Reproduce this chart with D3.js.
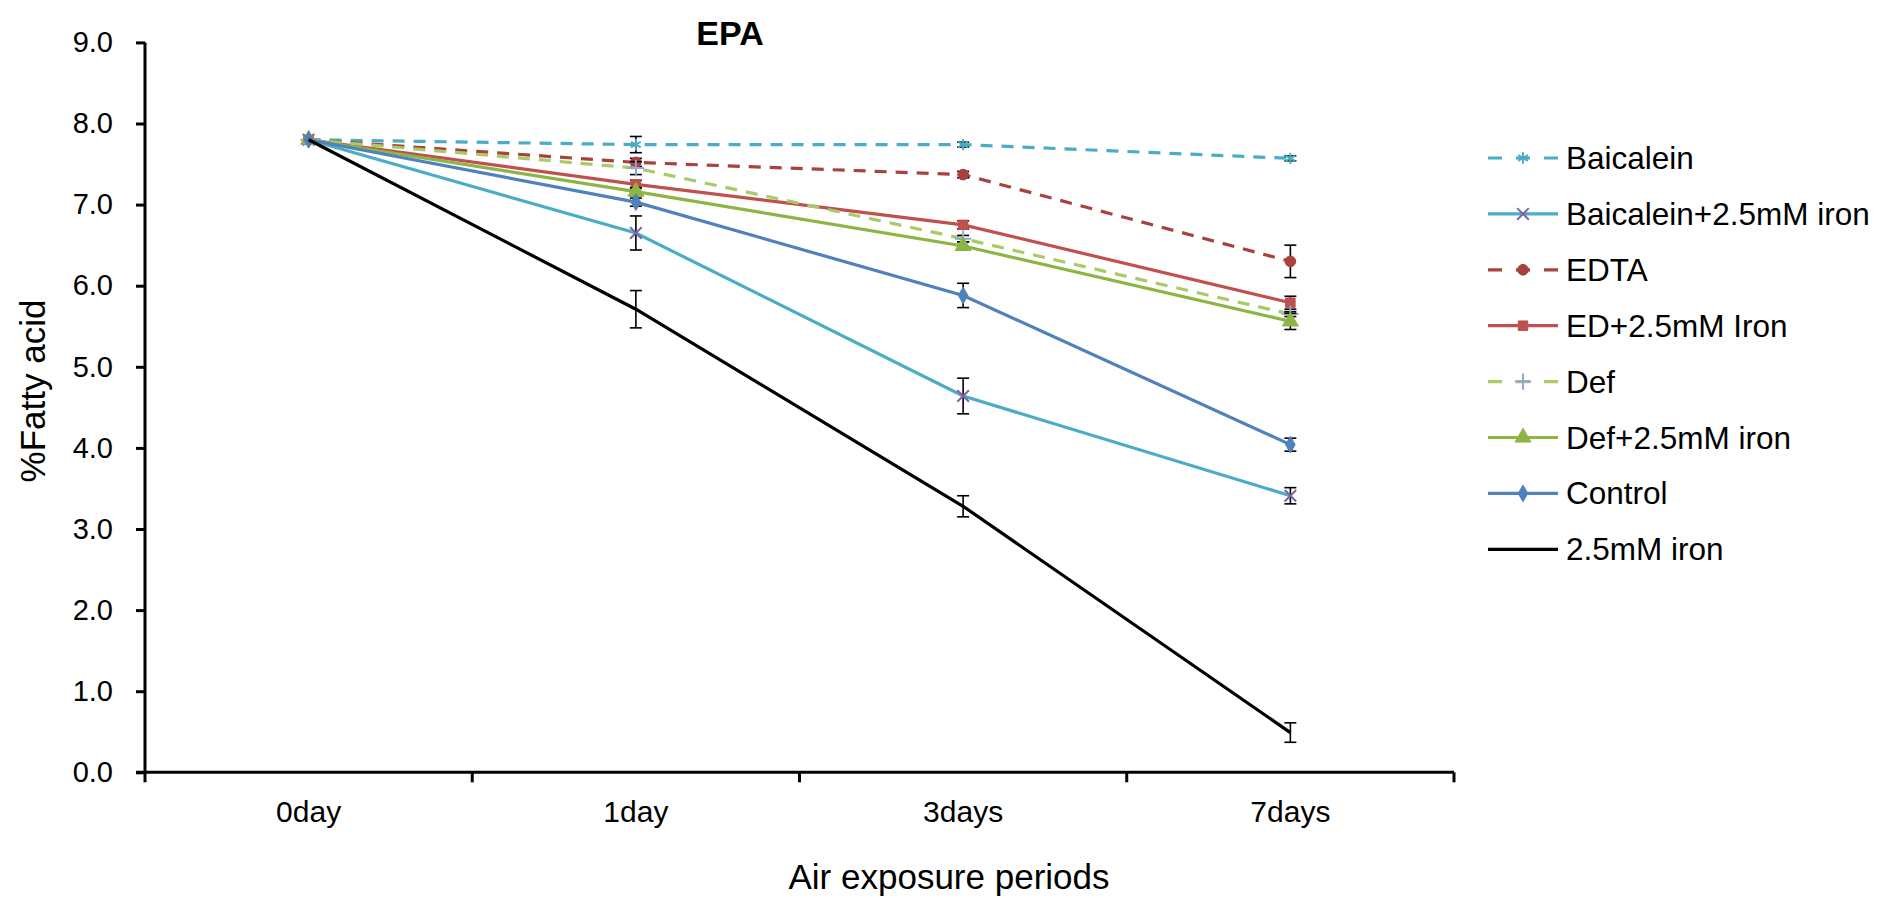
<!DOCTYPE html>
<html>
<head>
<meta charset="utf-8">
<script src="https://cdn.jsdelivr.net/npm/d3@7"></script>
<style>
  html, body { margin: 0; padding: 0; background: #fff; }
  svg { display: block; font-family: "Liberation Sans", Arial, sans-serif; }
</style>
</head>
<body>
<svg id="chart" width="1879" height="898"></svg>
<script>
// Exposure periods on the x axis
const categories = ["0day", "1day", "3days", "7days"];
const yTicks = [0, 1, 2, 3, 4, 5, 6, 7, 8, 9];

// EPA (% of total fatty acid) per treatment, with error bar half-widths
const baicalein        = [7.80, 7.74, 7.74, 7.57];
const baicaleinErr     = [0, 0.10, 0.03, 0.03];
const baicaleinIron    = [7.80, 6.65, 4.64, 3.41];
const baicaleinIronErr = [0, 0.21, 0.22, 0.10];
const edta             = [7.80, 7.52, 7.37, 6.30];
const edtaErr          = [0, 0.05, 0.04, 0.20];
const edIron           = [7.80, 7.25, 6.75, 5.79];
const edIronErr        = [0, 0.05, 0.05, 0.08];
const def              = [7.80, 7.45, 6.58, 5.65];
const defErr           = [0, 0.08, 0.04, 0.03];
const defIron          = [7.80, 7.16, 6.49, 5.56];
const defIronErr       = [0, 0.05, 0.05, 0.10];
const control          = [7.80, 7.03, 5.88, 4.04];
const controlErr       = [0, 0.05, 0.15, 0.08];
const iron             = [7.80, 5.71, 3.28, 0.49];
const ironErr          = [0, 0.23, 0.13, 0.12];

const series = [
  { name: "Baicalein",            values: baicalein,     err: baicaleinErr,     color: "#4BACC6", dash: "12,9", symbol: d3.symbolAsterisk, stroked: true,  markColor: "#4BACC6" },
  { name: "Baicalein+2.5mM iron", values: baicaleinIron, err: baicaleinIronErr, color: "#4BACC6", dash: null,   symbol: d3.symbolTimes,    stroked: true,  markColor: "#8064A2" },
  { name: "EDTA",                 values: edta,          err: edtaErr,          color: "#A8423F", dash: "12,9", symbol: d3.symbolCircle,   stroked: false, markColor: "#A8423F" },
  { name: "ED+2.5mM Iron",        values: edIron,        err: edIronErr,        color: "#C0504D", dash: null,   symbol: d3.symbolSquare,   stroked: false, markColor: "#C0504D" },
  { name: "Def",                  values: def,           err: defErr,           color: "#A8CB68", dash: "12,9", symbol: d3.symbolPlus,     stroked: true,  markColor: "#8FA8D6" },
  { name: "Def+2.5mM iron",       values: defIron,       err: defIronErr,       color: "#8DB543", dash: null,   symbol: d3.symbolTriangle, stroked: false, markColor: "#8DB543" },
  { name: "Control",              values: control,       err: controlErr,       color: "#4F81BD", dash: null,   symbol: d3.symbolDiamond,  stroked: false, markColor: "#4F81BD" },
  { name: "2.5mM iron",           values: iron,          err: ironErr,          color: "#000000", dash: null,   symbol: null,              stroked: false, markColor: "#000000" }
];

const svg = d3.select("#chart");
const plot = { left: 145, right: 1454, top: 42.4, bottom: 772.3 };

const x = d3.scaleBand().domain(categories).range([plot.left, plot.right]).padding(0);
const y = d3.scaleLinear().domain([0, 9]).range([plot.bottom, plot.top]);
const cx = c => x(c) + x.bandwidth() / 2;

// Title
svg.append("text")
  .attr("x", 730).attr("y", 45)
  .attr("text-anchor", "middle")
  .attr("font-size", 34).attr("font-weight", "bold")
  .text("EPA");

// Y axis
const yAxis = svg.append("g")
  .attr("transform", `translate(${plot.left},0)`)
  .call(d3.axisLeft(y).tickValues(yTicks).tickFormat(d3.format(".1f")).tickSize(9).tickPadding(23));
yAxis.select(".domain").attr("stroke", "#000").attr("stroke-width", 3).attr("d", `M0,${plot.top}V${plot.bottom}`);
yAxis.selectAll(".tick line").attr("stroke", "#000").attr("stroke-width", 3);
yAxis.selectAll(".tick text").attr("font-size", 29).attr("font-family", "Liberation Sans, Arial, sans-serif").attr("fill", "#000");

// X axis: line, ticks between categories, labels at band centres
const xg = svg.append("g").attr("transform", `translate(0,${plot.bottom})`);
xg.append("line")
  .attr("x1", plot.left - 9).attr("x2", plot.right)
  .attr("y1", 0).attr("y2", 0)
  .attr("stroke", "#000").attr("stroke-width", 3);
const bounds = categories.map(c => x(c)).concat([x.range()[1]]);
xg.selectAll("line.bound").data(bounds).join("line")
  .attr("class", "bound")
  .attr("x1", d => d).attr("x2", d => d)
  .attr("y1", 0).attr("y2", 10)
  .attr("stroke", "#000").attr("stroke-width", 3);
const xLabels = svg.append("g")
  .attr("transform", `translate(0,${plot.bottom})`)
  .call(d3.axisBottom(x).tickSize(0).tickPadding(28));
xLabels.select(".domain").remove();
xLabels.selectAll(".tick text").attr("font-size", 30).attr("font-family", "Liberation Sans, Arial, sans-serif").attr("fill", "#000");

// Axis titles
svg.append("text")
  .attr("x", 949).attr("y", 889)
  .attr("text-anchor", "middle")
  .attr("font-size", 35)
  .text("Air exposure periods");
svg.append("text")
  .attr("transform", "translate(45,391) rotate(-90)")
  .attr("text-anchor", "middle")
  .attr("font-size", 35)
  .text("%Fatty acid");

// Series: line, error bars, markers
const line = d3.line().x((d, i) => cx(categories[i])).y(d => y(d));

function drawMarker(g, s, px, py) {
  if (!s.symbol) return;
  const size = s.symbol === d3.symbolCircle ? 90 : s.symbol === d3.symbolTriangle ? 110 : s.symbol === d3.symbolDiamond ? 80 : 90;
  g.append("path")
    .attr("transform", `translate(${px},${py})`)
    .attr("d", d3.symbol(s.symbol, size)())
    .attr("fill", s.stroked ? "none" : s.markColor)
    .attr("stroke", s.markColor)
    .attr("stroke-width", s.stroked ? 2 : 1);
}

series.forEach(s => {
  const g = svg.append("g");
  g.append("path")
    .datum(s.values)
    .attr("d", line)
    .attr("fill", "none")
    .attr("stroke", s.color)
    .attr("stroke-width", 3.2)
    .attr("stroke-dasharray", s.dash);

  s.values.forEach((v, i) => {
    const e = s.err[i];
    const px = cx(categories[i]);
    if (e > 0) {
      const eb = g.append("g").attr("stroke", "#000").attr("stroke-width", 1.6);
      eb.append("line").attr("x1", px).attr("x2", px).attr("y1", y(v - e)).attr("y2", y(v + e));
      eb.append("line").attr("x1", px - 6).attr("x2", px + 6).attr("y1", y(v - e)).attr("y2", y(v - e));
      eb.append("line").attr("x1", px - 6).attr("x2", px + 6).attr("y1", y(v + e)).attr("y2", y(v + e));
    }
    drawMarker(g, s, px, y(v));
  });
});

// Legend: short dash, marker, short dash for dashed series
const legend = svg.append("g");
series.forEach((s, i) => {
  const ly = 158 + i * 55.9;
  const row = legend.append("g");
  row.append("line")
    .attr("x1", 1488).attr("x2", 1558)
    .attr("y1", ly).attr("y2", ly)
    .attr("stroke", s.color).attr("stroke-width", 3.2)
    .attr("stroke-dasharray", s.dash ? "14,14" : null);
  drawMarker(row, s, 1523, ly);
  row.append("text")
    .attr("x", 1566).attr("y", ly + 11)
    .attr("font-size", 31.5)
    .text(s.name);
});
</script>
</body>
</html>
